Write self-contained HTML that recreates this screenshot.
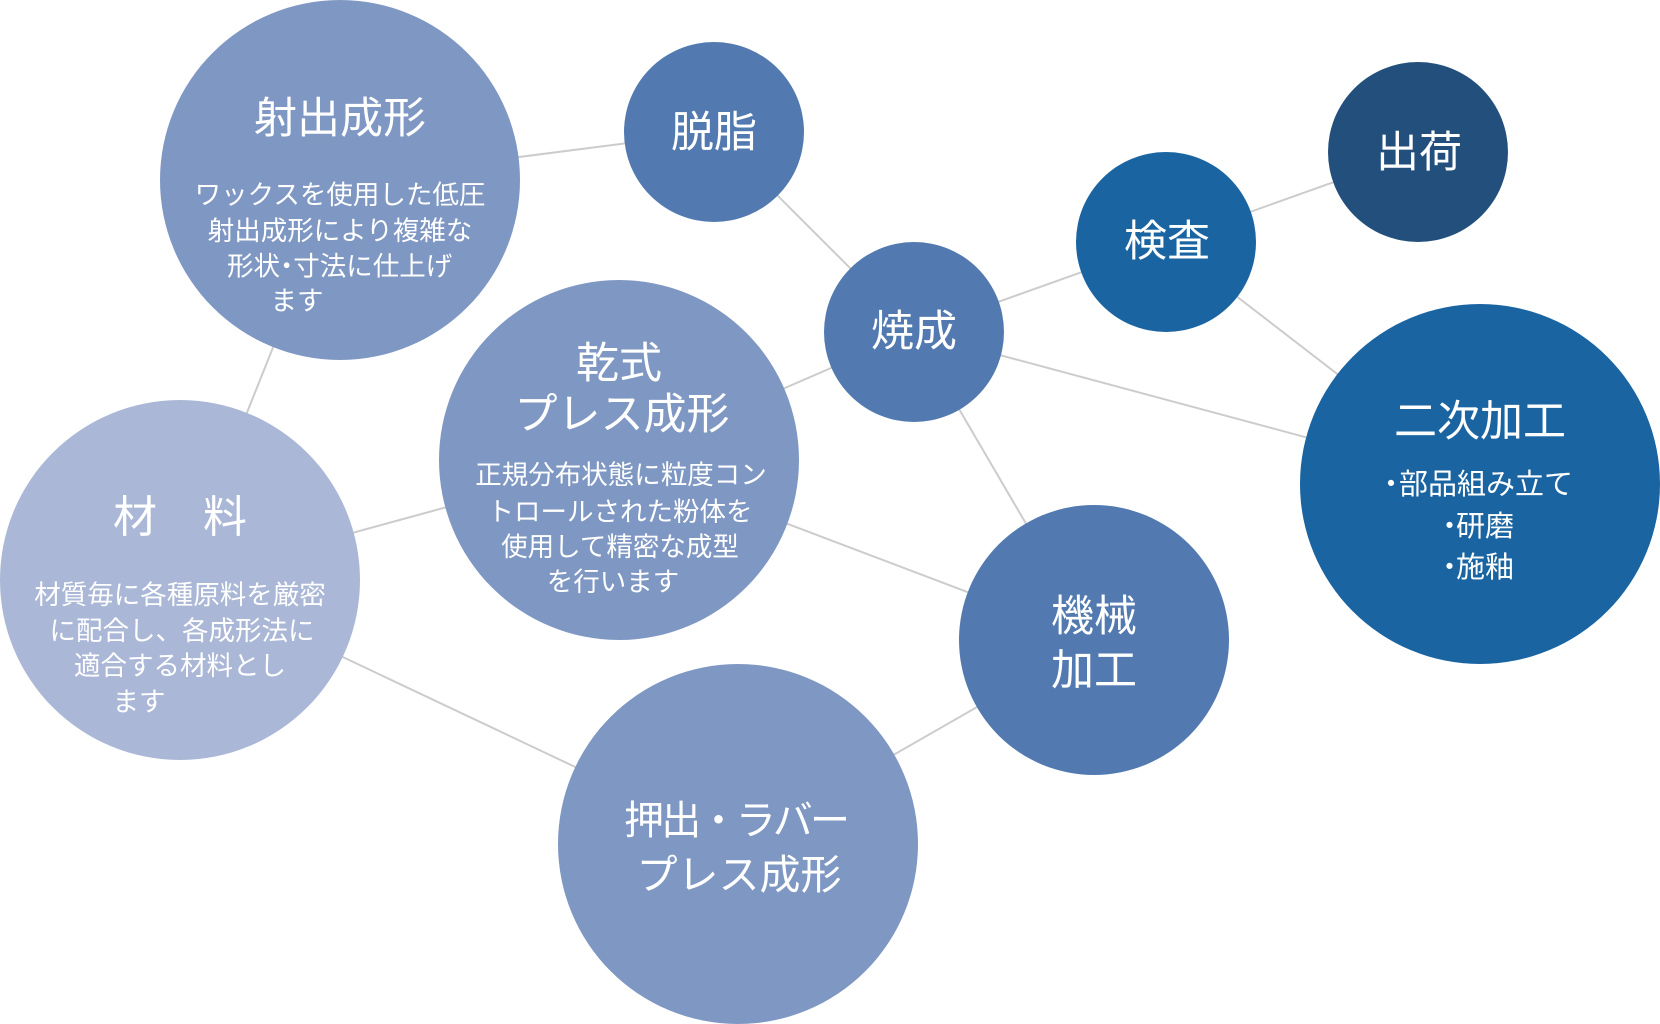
<!DOCTYPE html>
<html>
<head>
<meta charset="utf-8">
<style>
html,body{margin:0;padding:0;background:#fff;}
svg{display:block;}
text{fill:#fff;font-family:"Liberation Sans","Noto Sans CJK JP",sans-serif;}
.t{font-size:43px;}
.b{font-size:26.5px;}
.s{font-size:29px;}
</style>
</head>
<body>
<svg width="1660" height="1024" viewBox="0 0 1660 1024" xmlns="http://www.w3.org/2000/svg">
<rect width="1660" height="1024" fill="#fff"/>
<g stroke="#cccccc" stroke-width="2" fill="none">
<line x1="340" y1="180" x2="714" y2="132"/>
<line x1="714" y1="132" x2="914" y2="332"/>
<line x1="340" y1="180" x2="180" y2="580"/>
<line x1="180" y1="580" x2="619" y2="460"/>
<line x1="619" y1="460" x2="914" y2="332"/>
<line x1="619" y1="460" x2="1094" y2="640"/>
<line x1="180" y1="580" x2="738" y2="844"/>
<line x1="738" y1="844" x2="1094" y2="640"/>
<line x1="914" y1="332" x2="1094" y2="640"/>
<line x1="914" y1="332" x2="1166" y2="242"/>
<line x1="914" y1="332" x2="1480" y2="484"/>
<line x1="1166" y1="242" x2="1418" y2="152"/>
<line x1="1166" y1="242" x2="1480" y2="484"/>
</g>
<circle cx="340" cy="180" r="180" fill="#7f97c3"/>
<circle cx="714" cy="132" r="90" fill="#527ab0"/>
<circle cx="914" cy="332" r="90" fill="#527ab0"/>
<circle cx="1166" cy="242" r="90" fill="#1a64a2"/>
<circle cx="1418" cy="152" r="90" fill="#234f7c"/>
<circle cx="1480" cy="484" r="180" fill="#1a64a2"/>
<circle cx="619" cy="460" r="180" fill="#7f97c3"/>
<circle cx="180" cy="580" r="180" fill="#aab7d6"/>
<circle cx="1094" cy="640" r="135" fill="#527ab0"/>
<circle cx="738" cy="844" r="180" fill="#7f97c3"/>

<!-- 射出成形 -->
<text class="t" x="340" y="133" text-anchor="middle">射出成形</text>
<text class="b" x="340" y="204" text-anchor="middle">ワックスを使用した低圧</text>
<text class="b" x="340" y="240" text-anchor="middle">射出成形により複雑な</text>
<text class="b" x="227" y="275.5">形状<tspan dx="-6.6">・</tspan><tspan dx="-6.6">寸法に仕上げ</tspan></text>
<text class="b" x="297" y="310" text-anchor="middle">ます</text>

<!-- 脱脂 焼成 検査 出荷 -->
<text class="t" x="714" y="147" text-anchor="middle">脱脂</text>
<text class="t" x="914" y="346" text-anchor="middle">焼成</text>
<text class="t" x="1167" y="256" text-anchor="middle">検査</text>
<text class="t" x="1419" y="167" text-anchor="middle">出荷</text>

<!-- 二次加工 -->
<text class="t" x="1480" y="436" text-anchor="middle">二次加工</text>
<text class="s" x="1376.5" y="494">・<tspan dx="-6.5">部品組み立て</tspan></text>
<text class="s" x="1435" y="536">・<tspan dx="-8">研磨</tspan></text>
<text class="s" x="1435" y="577">・<tspan dx="-8">施釉</tspan></text>

<!-- 乾式プレス成形 -->
<text class="t" x="619" y="378" text-anchor="middle">乾式</text>
<text class="t" x="622" y="429" text-anchor="middle">プレス成形</text>
<text class="b" x="621" y="484" text-anchor="middle">正規分布状態に粒度コン</text>
<text class="b" x="620" y="521" text-anchor="middle">トロールされた粉体を</text>
<text class="b" x="620" y="556" text-anchor="middle">使用して精密な成型</text>
<text class="b" x="613" y="591" text-anchor="middle">を行います</text>

<!-- 材料 -->
<text x="135" y="532" text-anchor="middle" style="font-size:44px">材</text>
<text x="225" y="532" text-anchor="middle" style="font-size:44px">料</text>
<text class="b" x="180" y="604" text-anchor="middle">材質毎に各種原料を厳密</text>
<text class="b" x="182" y="640" text-anchor="middle">に配合し、各成形法に</text>
<text class="b" x="180" y="675" text-anchor="middle">適合する材料とし</text>
<text class="b" x="139" y="711" text-anchor="middle">ます</text>

<!-- 機械加工 -->
<text class="t" x="1094" y="631" text-anchor="middle">機械</text>
<text class="t" x="1094" y="685" text-anchor="middle">加工</text>

<!-- 押出・ラバープレス成形 -->
<text x="624" y="834" textLength="226" lengthAdjust="spacing" style="font-size:40px">押出・ラバー</text>
<text x="739" y="889" text-anchor="middle" style="font-size:41px">プレス成形</text>
</svg>
</body>
</html>
